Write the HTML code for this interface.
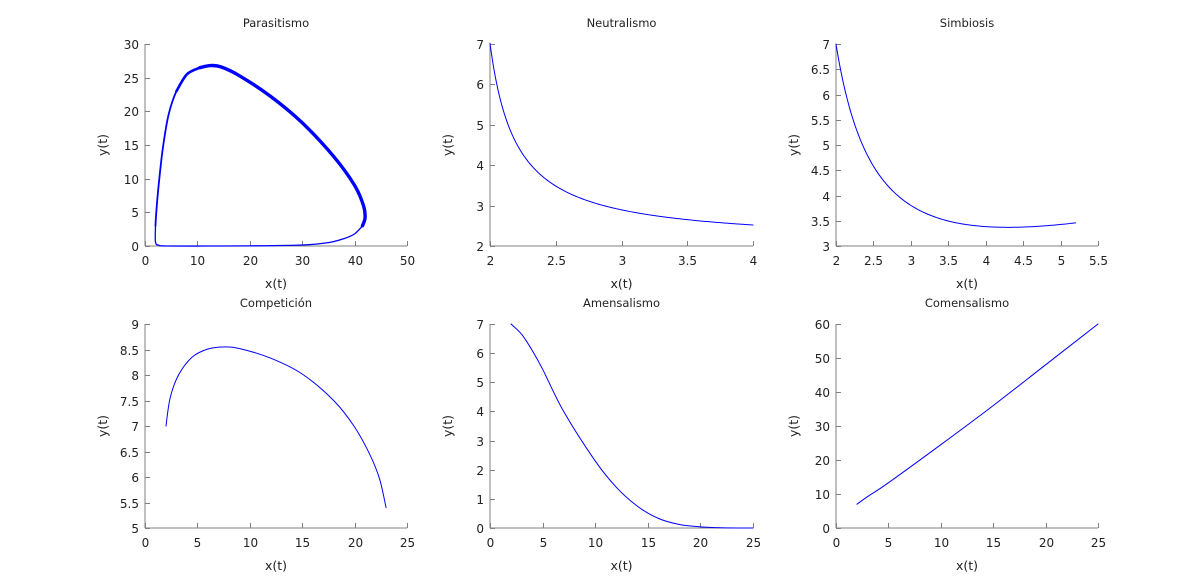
<!DOCTYPE html>
<html><head><meta charset="utf-8"><style>
html,body{margin:0;padding:0;background:#fff;}
svg{display:block;font-family:"DejaVu Sans","Liberation Sans",sans-serif;}
</style></head><body>
<svg id="s" width="1197" height="588" xmlns="http://www.w3.org/2000/svg"></svg>
<script>
const S=document.getElementById('s');
const NS='http://www.w3.org/2000/svg';
function el(t,a,txt){const e=document.createElementNS(NS,t);for(const k in a)e.setAttribute(k,a[k]);if(txt!==undefined)e.textContent=txt;S.appendChild(e);return e;}
function spline(pts){
  let d='M'+pts[0][0].toFixed(2)+','+pts[0][1].toFixed(2);
  for(let i=0;i<pts.length-1;i++){
    const p0=pts[Math.max(0,i-1)],p1=pts[i],p2=pts[i+1],p3=pts[Math.min(pts.length-1,i+2)];
    const c1=[p1[0]+(p2[0]-p0[0])/6,p1[1]+(p2[1]-p0[1])/6];
    const c2=[p2[0]-(p3[0]-p1[0])/6,p2[1]-(p3[1]-p1[1])/6];
    d+=' C'+c1.map(v=>v.toFixed(2)).join(',')+' '+c2.map(v=>v.toFixed(2)).join(',')+' '+p2[0].toFixed(2)+','+p2[1].toFixed(2);
  }
  return d;
}
function plot(o){
  const {x0,x1,y0,y1,xmin,xmax,ymin,ymax,xt,yt,title}=o;
  const X=v=>x0+(v-xmin)/(xmax-xmin)*(x1-x0);
  const Y=v=>y0-(v-ymin)/(ymax-ymin)*(y0-y1);
  const ax='#808080';
  el('line',{x1:x0,y1:y1,x2:x0,y2:y0,stroke:ax,'stroke-width':1});
  el('line',{x1:x0,y1:y0,x2:x1,y2:y0,stroke:ax,'stroke-width':1});
  xt.forEach(v=>{const px=Math.round(X(v))+0.5;
    el('line',{x1:px,y1:y0,x2:px,y2:y0-5,stroke:ax});
    el('text',{x:px,y:y0+19,'text-anchor':'middle','font-size':12,fill:'#222'},String(v));});
  yt.forEach(v=>{const py=Math.round(Y(v))+0.5;
    el('line',{x1:x0,y1:py,x2:x0+5,y2:py,stroke:ax});
    el('text',{x:x0-6,y:py+4.5,'text-anchor':'end','font-size':12,fill:'#222'},String(v));});
  el('text',{x:(x0+x1)/2,y:y1-17,'text-anchor':'middle','font-size':11.5,fill:'#222'},title);
  el('text',{x:(x0+x1)/2,y:y0+42,'text-anchor':'middle','font-size':12.5,fill:'#222'},'x(t)');
  const lx=x0-38,ly=(y0+y1)/2;
  el('text',{x:lx,y:ly,'text-anchor':'middle','font-size':12.5,fill:'#222',transform:`rotate(-90 ${lx} ${ly})`},'y(t)');
  (o.series||[]).forEach(s=>{
    let pts=s.f?(()=>{const a=[];for(let i=0;i<=200;i++){const x=s.a+(s.b-s.a)*i/200;a.push([x,s.f(x)]);}return a;})():s.p;
    const px=pts.map(q=>[X(q[0]),Y(q[1])]);
    const d=s.f?('M'+px.map(q=>q[0].toFixed(2)+','+q[1].toFixed(2)).join(' L')):spline(px);
    el('path',{d:d,fill:'none',stroke:'#0000ff','stroke-width':s.w||1,'stroke-linejoin':'round','stroke-linecap':'round'});
  });
}
const R1=[246,44],R2=[528,324];
const C=[[145,407],[490,753],[836,1098]];
plot({x0:C[0][0],x1:C[0][1],y0:R1[0],y1:R1[1],xmin:0,xmax:50,ymin:0,ymax:30,xt:[0,10,20,30,40,50],yt:[0,5,10,15,20,25,30],title:'Parasitismo',
 series:[
 {w:1.3,p:[[2,3],[2,0.6],[2.6,0.12],[4,0],[12,0],[20,0.02],[30,0.15],[35,0.5],[38,1.1],[40,1.8],[41.5,3]]},
 {w:1.8,p:[[8,25.5],[6,23],[4.5,19.5],[3.4,14.5],[2.6,9],[2.15,5],[2,3]]},
 {w:2.6,p:[[10.5,26.5],[8,25.5],[6,23]]},
 {w:3.4,p:[[41.5,3],[42,4.2],[41.7,6],[40,9],[36,13.3],[30,18.3],[24,22.2],[18,25.3],[14.5,26.6],[12.5,26.8],[10.5,26.5]]}
 ]});
plot({x0:C[1][0],x1:C[1][1],y0:R1[0],y1:R1[1],xmin:2,xmax:4,ymin:2,ymax:7,xt:[2,2.5,3,3.5,4],yt:[2,3,4,5,6,7],title:'Neutralismo',
 series:[{a:2,b:4,f:x=>2.07+0.99/(x-2+0.2)}]});
plot({x0:C[2][0],x1:C[2][1],y0:R1[0],y1:R1[1],xmin:2,xmax:5.5,ymin:3,ymax:7,xt:[2,2.5,3,3.5,4,4.5,5,5.5],yt:[3,3.5,4,4.5,5,5.5,6,6.5,7],title:'Simbiosis',
 series:[{a:2,b:5.2,f:x=>1.228+3.463/(x-2+0.6)+0.412*(x-2)}]});
plot({x0:C[0][0],x1:C[0][1],y0:R2[0],y1:R2[1],xmin:0,xmax:25,ymin:5,ymax:9,xt:[0,5,10,15,20,25],yt:[5,5.5,6,6.5,7,7.5,8,8.5,9],title:'Competición',
 series:[{p:[[2,7],[2.4,7.55],[3.2,8.0],[4.5,8.35],[6,8.51],[7.5,8.55],[9,8.52],[12,8.33],[15,8.02],[18,7.5],[20,6.98],[21.5,6.42],[22.4,5.95],[23,5.4]]}]});
plot({x0:C[1][0],x1:C[1][1],y0:R2[0],y1:R2[1],xmin:0,xmax:25,ymin:0,ymax:7,xt:[0,5,10,15,20,25],yt:[0,1,2,3,4,5,6,7],title:'Amensalismo',
 series:[{p:[[2,7],[3,6.65],[4,6.1],[5,5.45],[7,4.0],[10,2.3],[12,1.4],[14,0.75],[16,0.33],[18,0.12],[20,0.04],[22,0.01],[25,0]]}]});
plot({x0:C[2][0],x1:C[2][1],y0:R2[0],y1:R2[1],xmin:0,xmax:25,ymin:0,ymax:60,xt:[0,5,10,15,20,25],yt:[0,10,20,30,40,50,60],title:'Comensalismo',
 series:[{p:[[2,7],[3,9.2],[5,13.3],[10,24.5],[15,36],[20,48],[25,60]]}]});
</script>
</body></html>
